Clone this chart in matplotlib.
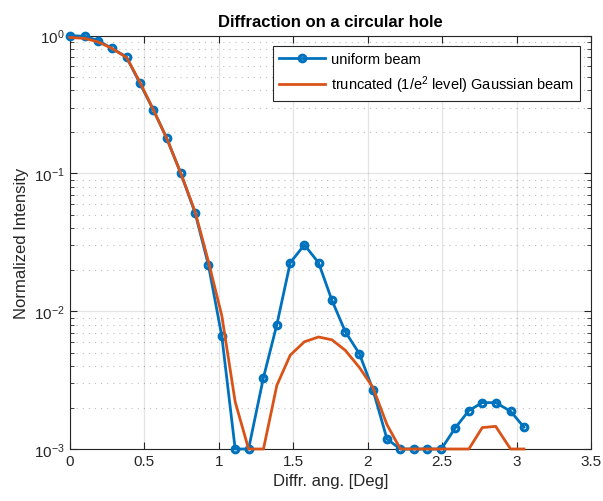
import matplotlib
matplotlib.use("Agg")
import matplotlib.pyplot as plt
from matplotlib.ticker import LogLocator, NullFormatter

# diffraction angle [deg]
angle = [0.00, 0.10, 0.19, 0.28, 0.38, 0.47, 0.56, 0.65, 0.745, 0.84,
         0.93, 1.02, 1.11, 1.20, 1.30, 1.39, 1.48, 1.575, 1.67, 1.76,
         1.85, 1.945, 2.035, 2.13, 2.22, 2.31, 2.40, 2.495, 2.59, 2.68,
         2.77, 2.86, 2.96, 3.05]

uniform = [1.0, 0.99, 0.92, 0.81, 0.70, 0.45, 0.29, 0.18, 0.10, 0.052,
           0.0217, 0.0066, 0.001, 0.001, 0.0033, 0.008, 0.0225, 0.0303, 0.0225, 0.012,
           0.0071, 0.0049, 0.0027, 0.00118, 0.001, 0.001, 0.001, 0.001, 0.00143, 0.0019,
           0.00217, 0.00217, 0.00188, 0.00144]

gaussian = [0.97, 0.955, 0.90, 0.81, 0.695, 0.46, 0.29, 0.18, 0.10, 0.053,
            0.023, 0.0093, 0.0022, 0.001, 0.001, 0.0029, 0.0048, 0.0060, 0.0065, 0.0062,
            0.0052, 0.0039, 0.0028, 0.0015, 0.001, 0.001, 0.001, 0.001, 0.001, 0.001,
            0.00143, 0.00146, 0.001, 0.001]

xticks = [0, 0.5, 1, 1.5, 2, 2.5, 3, 3.5]

plt.rcParams['font.family'] = ['Liberation Sans', 'DejaVu Sans']
plt.rcParams['mathtext.fontset'] = 'custom'
plt.rcParams['mathtext.rm'] = 'Liberation Sans'
plt.rcParams['mathtext.it'] = 'Liberation Sans:italic'

axcol = '#262626'
fig = plt.figure(figsize=(6.03, 5.02), dpi=100)
ax = fig.add_axes([0.116, 0.1036, 0.864, 0.8234])

ax.plot(angle, uniform, '-o', color='#0072BD', lw=2, markersize=4.8,
        mfc='none', mew=2.2, label='uniform beam', clip_on=False, zorder=3)
ax.plot(angle, gaussian, '-', color='#D95319', lw=2,
        label='truncated (1/e$^2$ level) Gaussian beam', clip_on=False, zorder=3)

ax.set_yscale('log')
ax.set_xlim(0, 3.5)
ax.set_ylim(1e-3, 1)
ax.set_xticks(xticks)
ax.set_xticklabels([('%g' % t) for t in xticks])
ax.yaxis.set_minor_locator(LogLocator(base=10, subs=range(2, 10)))
ax.yaxis.set_minor_formatter(NullFormatter())

ax.grid(True, which='major', color='#262626', alpha=0.12, lw=0.9)
ax.grid(True, which='minor', axis='y', color='#262626', alpha=0.3, lw=0.8, linestyle=(0, (1, 4.5)))
ax.set_axisbelow(True)

ax.tick_params(which='both', direction='in', top=True, right=True, colors=axcol,
               labelsize=11, labelcolor=axcol)
ax.tick_params(which='major', length=5)
ax.tick_params(which='minor', length=3)
for s in ax.spines.values():
    s.set_color(axcol)
    s.set_linewidth(0.8)

ax.set_xlabel('Diffr. ang. [Deg]', fontsize=12, color=axcol, labelpad=4)
ax.set_ylabel('Normalized Intensity', fontsize=12, color=axcol, labelpad=4)
ax.set_title('Diffraction on a circular hole', fontsize=12, fontweight='bold', color='black', pad=7)

leg = ax.legend(loc='upper right', bbox_to_anchor=(0.979, 0.975), borderaxespad=0,
                fancybox=False, framealpha=1, edgecolor=axcol, fontsize=10.5,
                handlelength=3.2, handletextpad=0.4, borderpad=0.4, labelspacing=0.5)
leg.get_frame().set_linewidth(0.8)

fig.savefig('out.png', dpi=100)
